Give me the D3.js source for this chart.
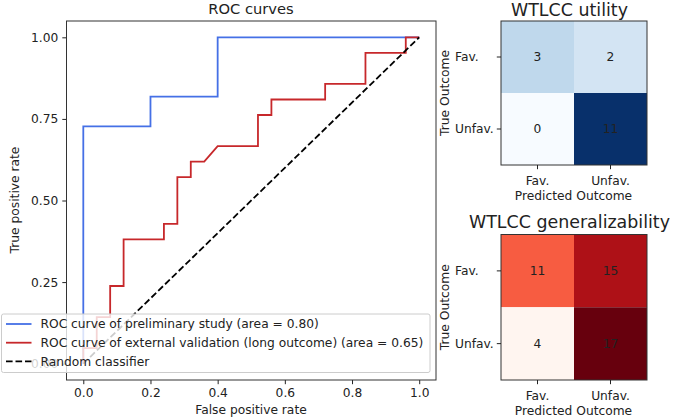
<!DOCTYPE html>
<html>
<head>
<meta charset="utf-8">
<script src="https://cdn.jsdelivr.net/npm/d3@7"></script>
<style>
  body { margin: 0; background: #fff; }
  svg { display: block; }
  text { font-family: 'DejaVu Sans', sans-serif; fill: #222; }
</style>
</head>
<body>
<div class="main-content"></div>
<script>
// ROC points
var prelimFpr = [0, 0, 0.2, 0.2, 0.4, 0.4, 1]
var prelimTpr = [0, 8 / 11, 8 / 11, 9 / 11, 9 / 11, 1, 1]
var externalFpr = [0, 0, 0.04, 0.04, 0.08, 0.08, 0.12, 0.12, 0.24, 0.24, 0.28, 0.28, 0.32, 0.32, 0.36, 0.40, 0.52, 0.52, 0.56, 0.56, 0.72, 0.72, 0.84, 0.84, 0.96, 0.96, 1]
var externalTpr = [0, 1, 1, 3, 3, 5, 5, 8, 8, 9, 9, 12, 12, 13, 13, 14, 14, 16, 16, 17, 17, 18, 18, 20, 20, 21, 21].map(function(d) { return d / 21 })
var randomFpr = [0, 1]
var randomTpr = [0, 1]
var legendLabels = [
  'ROC curve of preliminary study (area = 0.80)',
  'ROC curve of external validation (long outcome) (area = 0.65)',
  'Random classifier'
]
var rocTicks = [0, 0.2, 0.4, 0.6, 0.8, 1.0]
var rocYTicks = [0, 0.25, 0.5, 0.75, 1.0]

var outcomeLabels = ['Fav.', 'Unfav.']
var utilityMatrix = [[3, 2], [0, 11]]
var generalMatrix = [[11, 15], [4, 17]]

const width = 673
const height = 418
const fontSize = 12.25
const blueColor = '#4570e6'
const redColor = '#c7282b'
// matplotlib Blues / Reds anchor colours, linear between them
const bluesColors = ['#f7fbff', '#deebf7', '#c6dbef', '#9ecae1', '#6baed6', '#4292c6', '#2171b5', '#08519c', '#08306b']
const redsColors = ['#fff5f0', '#fee0d2', '#fcbba1', '#fc9272', '#fb6a4a', '#ef3b2c', '#cb181d', '#a50f15', '#67000d']

var svg = d3.select('.main-content')
  .append('svg')
  .attr('width', width)
  .attr('height', height)

function drawRoc() {
  var x = d3.scaleLinear().domain([-0.05, 1.05]).range([66.5, 436])
  var y = d3.scaleLinear().domain([-0.05, 1.05]).range([380, 21])
  var g = svg.append('g')

  var line = d3.line()
    .x(function(d) { return x(d[0]) })
    .y(function(d) { return y(d[1]) })

  var series = [
    { fpr: prelimFpr, tpr: prelimTpr, color: blueColor, dash: null },
    { fpr: externalFpr, tpr: externalTpr, color: redColor, dash: null },
    { fpr: randomFpr, tpr: randomTpr, color: '#000', dash: '6.6,2.9' }
  ]
  series.forEach(function(s) {
    g.append('path')
      .attr('d', line(d3.zip(s.fpr, s.tpr)))
      .attr('fill', 'none')
      .attr('stroke', s.color)
      .attr('stroke-width', 1.8)
      .attr('stroke-dasharray', s.dash)
  })

  var xAxis = d3.axisBottom(x).tickValues(rocTicks).tickSize(4.2).tickPadding(4)
    .tickFormat(d3.format('.1f'))
  var yAxis = d3.axisLeft(y).tickValues(rocYTicks).tickSize(4.2).tickPadding(4)
    .tickFormat(d3.format('.2f'))
  var xa = g.append('g').attr('transform', 'translate(0,380)').call(xAxis)
  var ya = g.append('g').attr('transform', 'translate(66.5,0)').call(yAxis)
  ;[xa, ya].forEach(function(a) {
    a.select('.domain').remove()
    a.selectAll('text').attr('font-size', fontSize).attr('font-family', 'DejaVu Sans').attr('fill', '#222')
    a.selectAll('line').attr('stroke', '#222').attr('stroke-width', 1)
  })

  g.append('rect')
    .attr('x', 66.5).attr('y', 21).attr('width', 369.5).attr('height', 359)
    .attr('fill', 'none').attr('stroke', '#333').attr('stroke-width', 1)

  g.append('text').attr('x', 251).attr('y', 14).attr('text-anchor', 'middle')
    .attr('font-size', 14.7).text('ROC curves')
  g.append('text').attr('x', 251).attr('y', 414).attr('text-anchor', 'middle')
    .attr('font-size', fontSize).text('False positive rate')
  g.append('text').attr('transform', 'translate(19,200) rotate(-90)').attr('text-anchor', 'middle')
    .attr('font-size', fontSize).text('True positive rate')

  // legend
  var lg = g.append('g')
  lg.append('rect')
    .attr('x', 1.5).attr('y', 314).attr('width', 428.5).attr('height', 58.5).attr('rx', 2)
    .attr('fill', '#fff').attr('fill-opacity', 0.8)
    .attr('stroke', '#ccc').attr('stroke-width', 1)
  var rowY = [324, 342.7, 361.3]
  legendLabels.forEach(function(label, i) {
    lg.append('line')
      .attr('x1', 6).attr('x2', 31.5).attr('y1', rowY[i]).attr('y2', rowY[i])
      .attr('stroke', series[i].color).attr('stroke-width', 1.8)
      .attr('stroke-dasharray', series[i].dash)
    lg.append('text').attr('x', 40.5).attr('y', rowY[i] + 4.4)
      .attr('font-size', fontSize).text(label)
  })
}

function drawMatrix(opts) {
  var g = svg.append('g')
  var x = d3.scaleBand().domain([0, 1]).range([opts.left, opts.right])
  var y = d3.scaleBand().domain([0, 1]).range([opts.top, opts.bottom])
  var flat = d3.merge(opts.data)
  var color = d3.scaleLinear().domain([d3.min(flat), d3.max(flat)]).range([0, 1])
  var ramp = d3.piecewise(d3.interpolateRgb, opts.colors)

  opts.data.forEach(function(row, i) {
    row.forEach(function(v, j) {
      g.append('rect')
        .attr('x', x(j)).attr('y', y(i))
        .attr('width', x.bandwidth()).attr('height', y.bandwidth())
        .attr('fill', ramp(color(v)))
      g.append('text')
        .attr('x', x(j) + x.bandwidth() / 2).attr('y', y(i) + y.bandwidth() / 2 + 4.4)
        .attr('text-anchor', 'middle').attr('font-size', fontSize).attr('fill', '#111')
        .text(v)
    })
  })
  g.append('rect')
    .attr('x', opts.left).attr('y', opts.top)
    .attr('width', opts.right - opts.left).attr('height', opts.bottom - opts.top)
    .attr('fill', 'none').attr('stroke', '#333').attr('stroke-width', 1)

  outcomeLabels.forEach(function(label, i) {
    var cy = y(i) + y.bandwidth() / 2
    g.append('line').attr('x1', opts.left - 4.2).attr('x2', opts.left)
      .attr('y1', cy).attr('y2', cy).attr('stroke', '#222')
    g.append('text').attr('x', 455).attr('y', cy + 4.4).attr('font-size', fontSize).text(label)
    var cx = x(i) + x.bandwidth() / 2
    g.append('line').attr('x1', cx).attr('x2', cx)
      .attr('y1', opts.bottom).attr('y2', opts.bottom + 4.2).attr('stroke', '#222')
    g.append('text').attr('x', cx).attr('y', opts.bottom + 19.5)
      .attr('text-anchor', 'middle').attr('font-size', fontSize).text(label)
  })

  g.append('text').attr('x', 573.5).attr('y', opts.bottom + 34.5)
    .attr('text-anchor', 'middle').attr('font-size', fontSize).text('Predicted Outcome')
  g.append('text')
    .attr('transform', 'translate(449,' + ((opts.top + opts.bottom) / 2) + ') rotate(-90)')
    .attr('text-anchor', 'middle').attr('font-size', fontSize).text('True Outcome')

  g.append('text').attr('x', opts.titleX).attr('y', opts.titleY)
    .attr('font-family', 'Lato, sans-serif').attr('font-size', 18.5).attr('fill', '#111')
    .attr('textLength', opts.titleW).attr('lengthAdjust', 'spacingAndGlyphs')
    .text(opts.title)
}

drawRoc()
drawMatrix({
  data: utilityMatrix, colors: bluesColors, title: 'WTLCC utility',
  left: 501, right: 647, top: 21, bottom: 165, titleX: 511, titleY: 15.5, titleW: 117
})
drawMatrix({
  data: generalMatrix, colors: redsColors, title: 'WTLCC generalizability',
  left: 501, right: 647, top: 234.5, bottom: 380, titleX: 469, titleY: 228, titleW: 201
})
</script>
</body>
</html>
